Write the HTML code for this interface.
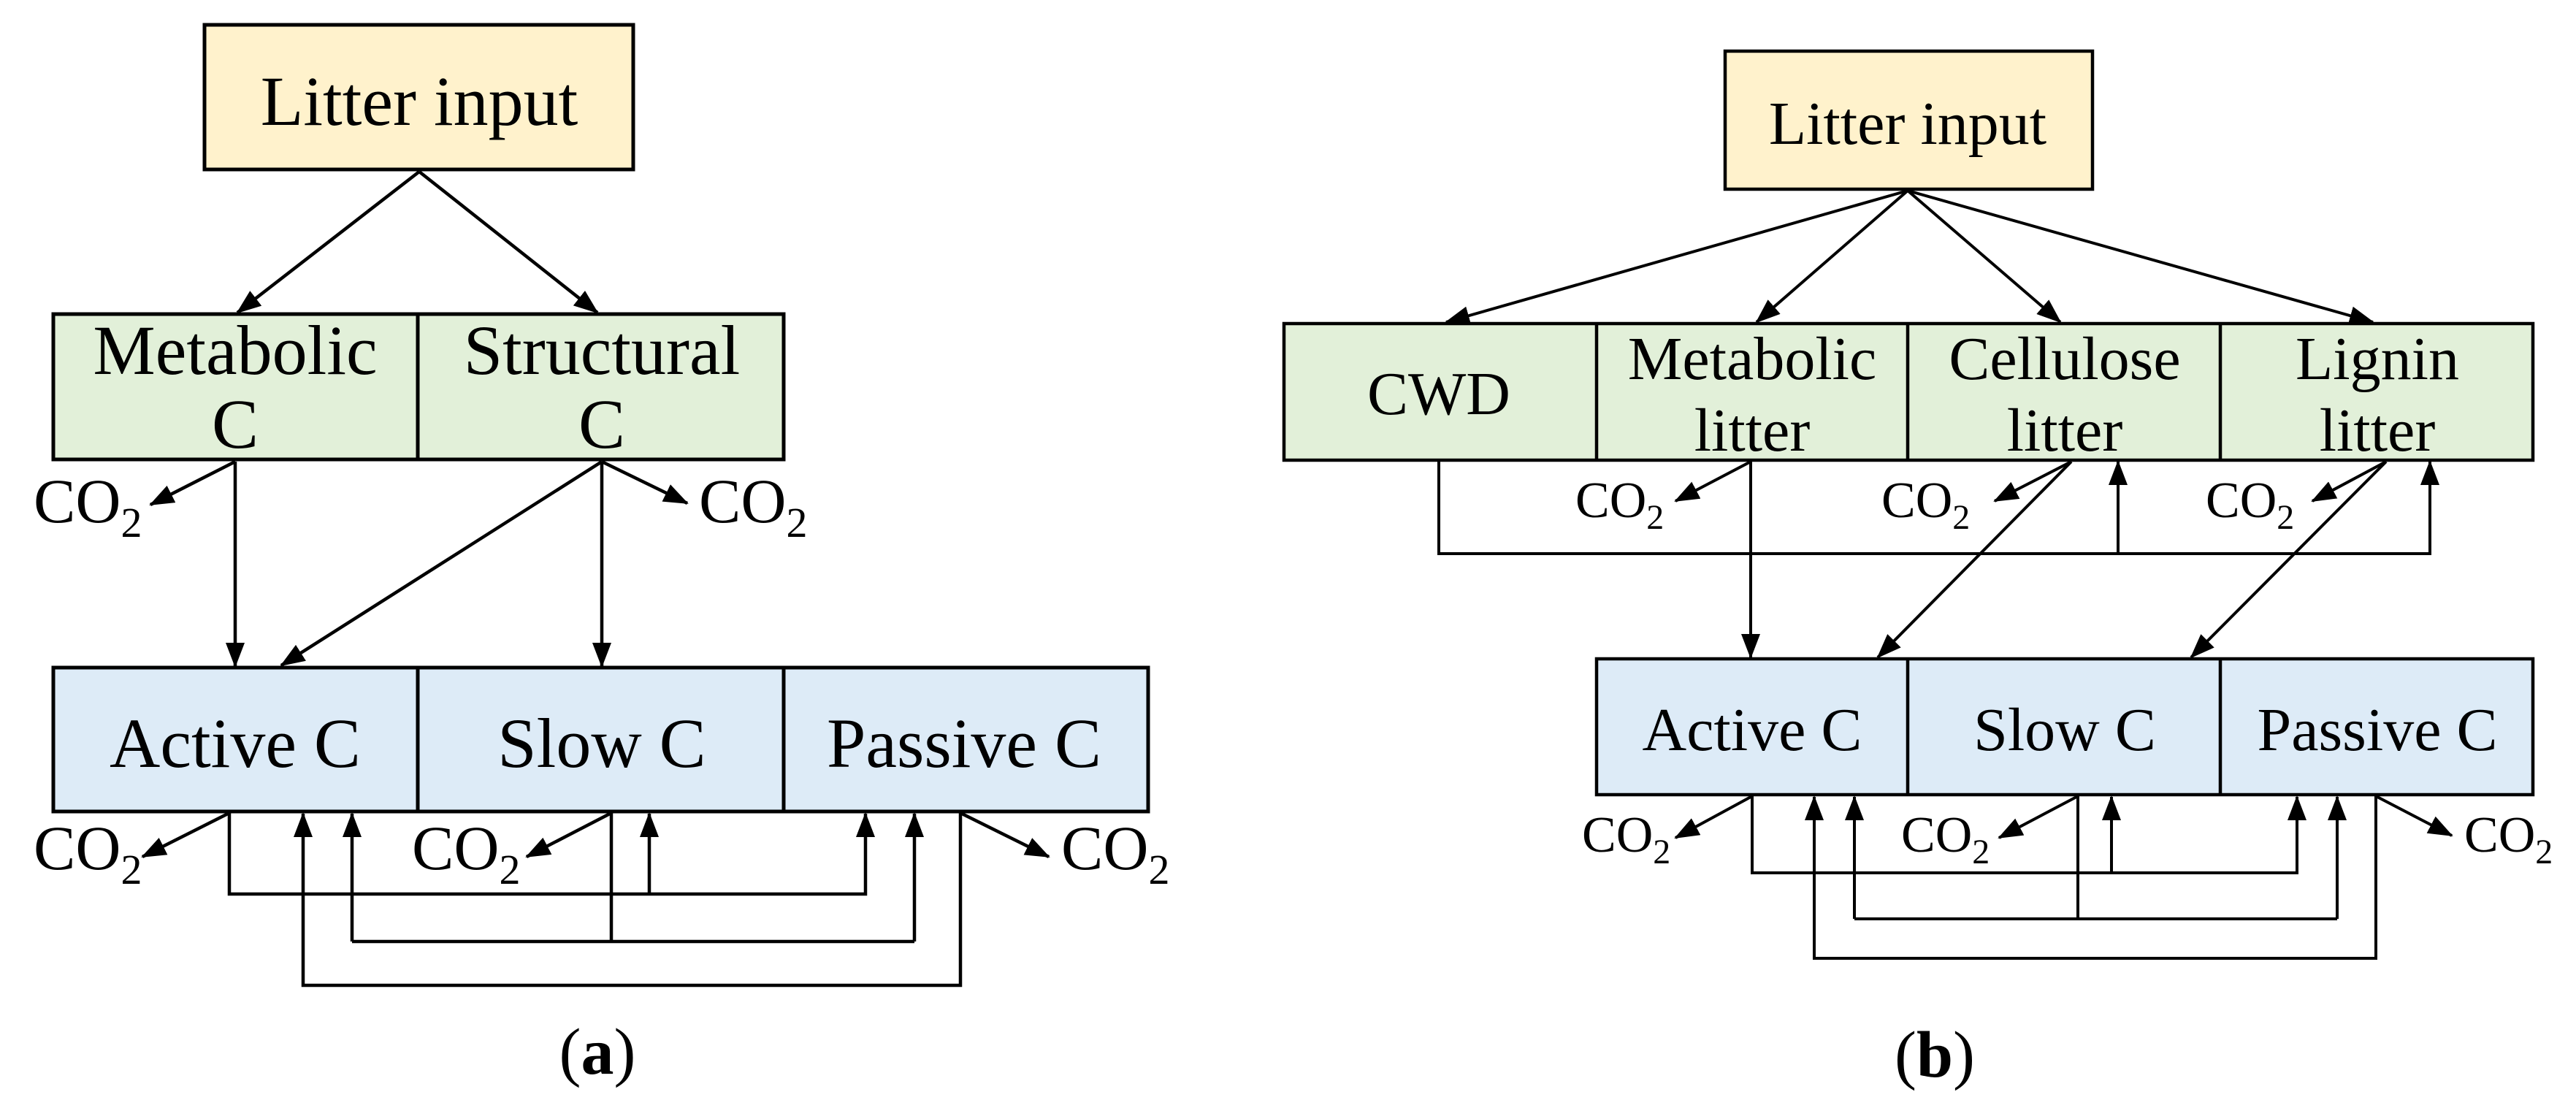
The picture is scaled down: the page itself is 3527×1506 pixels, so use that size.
<!DOCTYPE html>
<html><head><meta charset="utf-8"><style>
html,body{margin:0;padding:0;background:#fff;}
svg{display:block;}
</style></head><body>
<svg width="3527" height="1506" viewBox="0 0 3527 1506" xmlns="http://www.w3.org/2000/svg" font-family="'Liberation Serif', 'Times New Roman', 'DejaVu Serif', serif">
<defs>
<marker id="ah" markerUnits="userSpaceOnUse" markerWidth="34" markerHeight="26" refX="32" refY="13" orient="auto">
<path d="M0,0 L34,13 L0,26 Z" fill="#000"/>
</marker>
</defs>

<!-- ===== Panel (a) ===== -->
<g stroke="#000" stroke-width="5">
<rect x="280" y="34" width="587" height="198" fill="#fff2cc"/>
<rect x="73" y="430" width="1000" height="199" fill="#e2f0d9"/>
<line x1="572" y1="430" x2="572" y2="629"/>
<rect x="73" y="914" width="1499" height="197" fill="#ddebf7"/>
<line x1="572" y1="914" x2="572" y2="1111"/>
<line x1="1073" y1="914" x2="1073" y2="1111"/>
</g>
<g stroke="#000" stroke-width="4.5" fill="none">
<line x1="574" y1="235" x2="325" y2="428" marker-end="url(#ah)"/>
<line x1="574" y1="235" x2="818" y2="428" marker-end="url(#ah)"/>
<line x1="322" y1="632" x2="206" y2="691" marker-end="url(#ah)"/>
<line x1="322" y1="632" x2="322" y2="912" marker-end="url(#ah)"/>
<line x1="824" y1="632" x2="385" y2="911" marker-end="url(#ah)"/>
<line x1="824" y1="632" x2="824" y2="912" marker-end="url(#ah)"/>
<line x1="824" y1="632" x2="941" y2="689" marker-end="url(#ah)"/>
<line x1="314" y1="1113" x2="195" y2="1173" marker-end="url(#ah)"/>
<polyline points="314,1113 314,1224 1185,1224 1185,1114" marker-end="url(#ah)"/>
<line x1="889" y1="1224" x2="889" y2="1114" marker-end="url(#ah)"/>
<line x1="837" y1="1113" x2="721" y2="1173" marker-end="url(#ah)"/>
<line x1="837" y1="1113" x2="837" y2="1289"/>
<line x1="482" y1="1289" x2="1252" y2="1289"/>
<line x1="482" y1="1289" x2="482" y2="1114" marker-end="url(#ah)"/>
<line x1="1252" y1="1289" x2="1252" y2="1114" marker-end="url(#ah)"/>
<line x1="1315" y1="1113" x2="1436" y2="1173" marker-end="url(#ah)"/>
<polyline points="1315,1113 1315,1349 415,1349 415,1114" marker-end="url(#ah)"/>
</g>
<g font-size="96" text-anchor="middle" font-family="'Liberation Serif', 'Times New Roman', serif">
<text x="574" y="171">Litter input</text>
<text x="322" y="512">Metabolic</text>
<text x="322" y="613">C</text>
<text x="824" y="512">Structural</text>
<text x="824" y="613">C</text>
<text x="322" y="1050">Active C</text>
<text x="824" y="1050">Slow C</text>
<text x="1320" y="1050">Passive C</text>
</g>
<g font-size="86" font-family="'Liberation Serif', 'Times New Roman', serif">
<text x="46" y="715">CO<tspan font-size="58" dy="20">2</tspan></text>
<text x="957" y="715">CO<tspan font-size="58" dy="20">2</tspan></text>
<text x="46" y="1190">CO<tspan font-size="58" dy="20">2</tspan></text>
<text x="564" y="1190">CO<tspan font-size="58" dy="20">2</tspan></text>
<text x="1453" y="1190">CO<tspan font-size="58" dy="20">2</tspan></text>
</g>
<text x="818" y="1470" font-size="90" text-anchor="middle" font-family="'Liberation Serif', 'Times New Roman', serif">(<tspan font-weight="bold">a</tspan>)</text>

<!-- ===== Panel (b) ===== -->
<g stroke="#000" stroke-width="4.5">
<rect x="2362" y="70" width="503" height="189" fill="#fff2cc"/>
<rect x="1758" y="443" width="1710" height="187" fill="#e2f0d9"/>
<line x1="2186" y1="443" x2="2186" y2="630"/>
<line x1="2612" y1="443" x2="2612" y2="630"/>
<line x1="3040" y1="443" x2="3040" y2="630"/>
<rect x="2186" y="902" width="1282" height="186" fill="#ddebf7"/>
<line x1="2612" y1="902" x2="2612" y2="1088"/>
<line x1="3040" y1="902" x2="3040" y2="1088"/>
</g>
<g stroke="#000" stroke-width="4" fill="none">
<line x1="2612" y1="261" x2="1980" y2="441" marker-end="url(#ah)"/>
<line x1="2612" y1="261" x2="2405" y2="441" marker-end="url(#ah)"/>
<line x1="2612" y1="261" x2="2821" y2="441" marker-end="url(#ah)"/>
<line x1="2612" y1="261" x2="3249" y2="441" marker-end="url(#ah)"/>
<polyline points="1970,632 1970,758 3327,758 3327,632" marker-end="url(#ah)"/>
<line x1="2900" y1="758" x2="2900" y2="632" marker-end="url(#ah)"/>
<line x1="2397" y1="632" x2="2294" y2="686" marker-end="url(#ah)"/>
<line x1="2397" y1="632" x2="2397" y2="900" marker-end="url(#ah)"/>
<line x1="2836" y1="632" x2="2731" y2="686" marker-end="url(#ah)"/>
<line x1="2836" y1="632" x2="2571" y2="900" marker-end="url(#ah)"/>
<line x1="3267" y1="632" x2="3166" y2="686" marker-end="url(#ah)"/>
<line x1="3267" y1="632" x2="3000" y2="900" marker-end="url(#ah)"/>
<line x1="2399" y1="1090" x2="2294" y2="1147" marker-end="url(#ah)"/>
<polyline points="2399,1090 2399,1195 3145,1195 3145,1091" marker-end="url(#ah)"/>
<line x1="2891" y1="1195" x2="2891" y2="1091" marker-end="url(#ah)"/>
<line x1="2845" y1="1090" x2="2737" y2="1147" marker-end="url(#ah)"/>
<line x1="2845" y1="1090" x2="2845" y2="1258"/>
<line x1="2539" y1="1258" x2="3200" y2="1258"/>
<line x1="2539" y1="1258" x2="2539" y2="1091" marker-end="url(#ah)"/>
<line x1="3200" y1="1258" x2="3200" y2="1091" marker-end="url(#ah)"/>
<line x1="3253" y1="1090" x2="3357" y2="1144" marker-end="url(#ah)"/>
<polyline points="3253,1090 3253,1312 2484,1312 2484,1091" marker-end="url(#ah)"/>
</g>
<g font-size="84" text-anchor="middle" font-family="'Liberation Serif', 'Times New Roman', serif">
<text x="2612" y="197">Litter input</text>
<text x="1970" y="567">CWD</text>
<text x="2399" y="519">Metabolic</text>
<text x="2399" y="617">litter</text>
<text x="2827" y="519">Cellulose</text>
<text x="2827" y="617">litter</text>
<text x="3255" y="519">Lignin</text>
<text x="3255" y="617">litter</text>
<text x="2399" y="1027">Active C</text>
<text x="2827" y="1027">Slow C</text>
<text x="3255" y="1027">Passive C</text>
</g>
<g font-size="70" font-family="'Liberation Serif', 'Times New Roman', serif">
<text x="2157" y="708">CO<tspan font-size="48" dy="16">2</tspan></text>
<text x="2576" y="708">CO<tspan font-size="48" dy="16">2</tspan></text>
<text x="3020" y="708">CO<tspan font-size="48" dy="16">2</tspan></text>
<text x="2166" y="1166">CO<tspan font-size="48" dy="16">2</tspan></text>
<text x="2603" y="1166">CO<tspan font-size="48" dy="16">2</tspan></text>
<text x="3374" y="1166">CO<tspan font-size="48" dy="16">2</tspan></text>
</g>
<text x="2649" y="1474" font-size="90" text-anchor="middle" font-family="'Liberation Serif', 'Times New Roman', serif">(<tspan font-weight="bold">b</tspan>)</text>
</svg>
</body></html>
